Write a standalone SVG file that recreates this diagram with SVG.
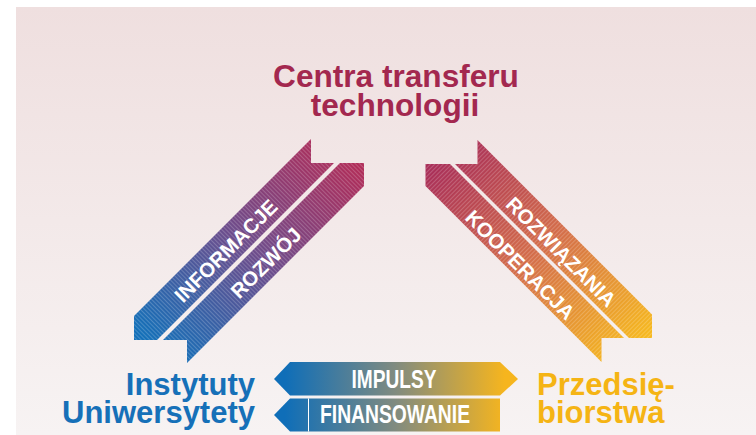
<svg xmlns="http://www.w3.org/2000/svg" width="756" height="435" viewBox="0 0 756 435">
<defs>
<linearGradient id="bg" x1="0" y1="0" x2="0" y2="1">
<stop offset="0" stop-color="#efdfdf"/>
<stop offset="1" stop-color="#f7f3f3"/>
</linearGradient>
<linearGradient id="gl" gradientUnits="userSpaceOnUse" x1="160" y1="350" x2="340" y2="150">
<stop offset="0" stop-color="#1570b8"/>
<stop offset="0.5" stop-color="#6d4d8c"/>
<stop offset="1" stop-color="#b02e5a"/>
</linearGradient>
<linearGradient id="gr" gradientUnits="userSpaceOnUse" x1="450" y1="150" x2="630" y2="350">
<stop offset="0" stop-color="#a92f59"/>
<stop offset="0.5" stop-color="#d46e4a"/>
<stop offset="1" stop-color="#f6b820"/>
</linearGradient>
<linearGradient id="gm" gradientUnits="userSpaceOnUse" x1="285" y1="0" x2="505" y2="0">
<stop offset="0" stop-color="#0f6eb8"/>
<stop offset="0.5" stop-color="#808b80"/>
<stop offset="1" stop-color="#f6b51e"/>
</linearGradient>
<pattern id="hl" width="3" height="3" patternUnits="userSpaceOnUse" patternTransform="rotate(-45)">
<rect x="0" y="0" width="1" height="3" fill="#ffffff" fill-opacity="0.2"/>
</pattern>
<pattern id="hr" width="3" height="3" patternUnits="userSpaceOnUse" patternTransform="rotate(45)">
<rect x="0" y="0" width="1" height="3" fill="#ffffff" fill-opacity="0.2"/>
</pattern>
</defs>
<style>
.lbl{font-family:"Liberation Sans",Arial,sans-serif;font-weight:bold;fill:#ffffff;font-size:20.5px;text-anchor:middle}
.big{font-family:"Liberation Sans",Arial,sans-serif;font-weight:bold;font-size:31px}
.bar{font-family:"Liberation Sans",Arial,sans-serif;font-weight:bold;fill:#ffffff;font-size:25px;text-anchor:middle}
</style>
<rect x="16" y="7" width="740" height="428" fill="url(#bg)"/>

<g id="connectors">
<g id="ribbon-left">
<polygon points="311,139 311,163 334,163 157,340 134,340 134,316" fill="url(#gl)"/>
<polygon points="340,163 364,163 364,186 187,363 187,340 163,340" fill="url(#gl)"/>
<polygon points="311,139 311,163 334,163 157,340 134,340 134,316" fill="url(#hl)"/>
<polygon points="340,163 364,163 364,186 187,363 187,340 163,340" fill="url(#hl)"/>
<text class="lbl" transform="translate(226,251) rotate(-45)" dy="7">INFORMACJE</text>
<text class="lbl" transform="translate(266,263) rotate(-45)" dy="7">ROZWÓJ</text>
</g>
<g id="ribbon-right">
<polygon points="477.5,140 477.5,164 455,164 629,338 652,338 652,314.5" fill="url(#gr)"/>
<polygon points="450,164 425.5,164 425.5,186 601.5,362 601.5,338 624,338" fill="url(#gr)"/>
<polygon points="477.5,140 477.5,164 455,164 629,338 652,338 652,314.5" fill="url(#hr)"/>
<polygon points="450,164 425.5,164 425.5,186 601.5,362 601.5,338 624,338" fill="url(#hr)"/>
<text class="lbl" transform="translate(561,252) rotate(45)" dy="7">ROZWIĄZANIA</text>
<text class="lbl" transform="translate(520,265) rotate(45)" dy="7">KOOPERACJA</text>
</g>
<g id="arrow-impulsy">
<polygon points="274,379 290,362 500,362 518,379 500,395.5 290,395.5" fill="url(#gm)"/>
<text class="bar" x="394" y="388" textLength="85" lengthAdjust="spacingAndGlyphs">IMPULSY</text>
</g>
<g id="arrow-finansowanie">
<polygon points="274,415 290,398.5 500,398.5 500,431.5 290,431.5" fill="url(#gm)"/>
<line x1="308.5" y1="398.5" x2="308.5" y2="431.5" stroke="#ffffff" stroke-width="1"/>
<text class="bar" x="395" y="423" textLength="150" lengthAdjust="spacingAndGlyphs">FINANSOWANIE</text>
</g>
</g>

<g id="ctt">
<text class="big" x="396" y="87" text-anchor="middle" fill="#a3284f" style="font-size:31.6px">Centra transferu</text>
<text class="big" x="395" y="116" text-anchor="middle" fill="#a3284f" style="font-size:31.6px">technologii</text>
</g>
<g id="uczelnie">
<text class="big" x="255" y="395" text-anchor="end" fill="#1670b8">Instytuty</text>
<text class="big" x="255" y="423" text-anchor="end" fill="#1670b8">Uniwersytety</text>
</g>
<g id="przedsiebiorstwa">
<text class="big" x="537" y="395" fill="#f5b414">Przedsię-</text>
<text class="big" x="537" y="423" fill="#f5b414">biorstwa</text>
</g>
</svg>
